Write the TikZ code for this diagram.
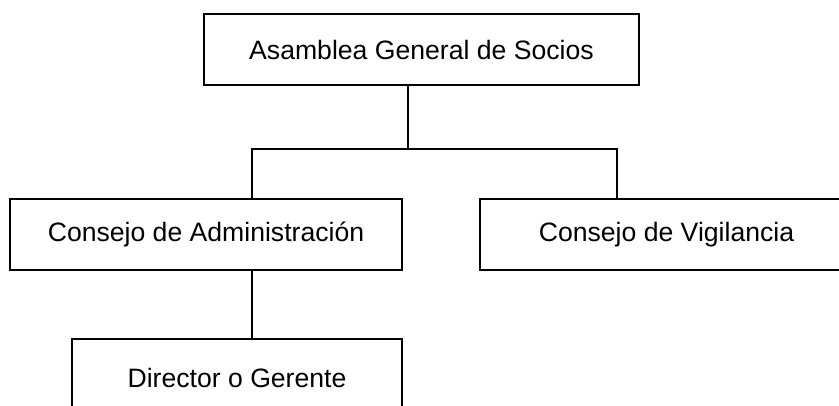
\documentclass[tikz,border=0pt]{standalone}
\usepackage{fontspec}
\setmainfont{Liberation Sans}
\begin{document}
\begin{tikzpicture}[x=1pt, y=-1pt,
        caja/.style={draw, line width=1.8pt, rectangle, inner sep=0pt,
            minimum height=71pt, font=\fontsize{26.6}{30}\selectfont},
        linea/.style={line width=1.8pt}]
        \useasboundingbox (0,0) rectangle (839,405);
        \clip (0,0) rectangle (839,405);

        \node[caja, minimum width=435pt] (asamblea) at (421.5, 49.5) {Asamblea General de Socios};
        \node[caja, minimum width=392pt] (admin) at (206, 234.5) {Consejo de Administración};
        \node[caja, minimum width=373pt] (vigilancia) at (666.5, 234.5) {Consejo de Vigilancia};
        \node[caja, minimum width=330pt, minimum height=78pt] (director) at (237, 378) {Director o Gerente};

        \coordinate (split) at (408, 149);
        \coordinate (ladmin) at (252, 149);
        \coordinate (lvig) at (617, 149);

        \draw[linea] (asamblea.south -| split) -- (split);
        \draw[linea] (admin.north -| ladmin) -- (ladmin) -- (lvig) -- (vigilancia.north -| lvig);
        \draw[linea] (admin.south -| ladmin) -- (director.north -| ladmin);
    \end{tikzpicture}
\end{document}
